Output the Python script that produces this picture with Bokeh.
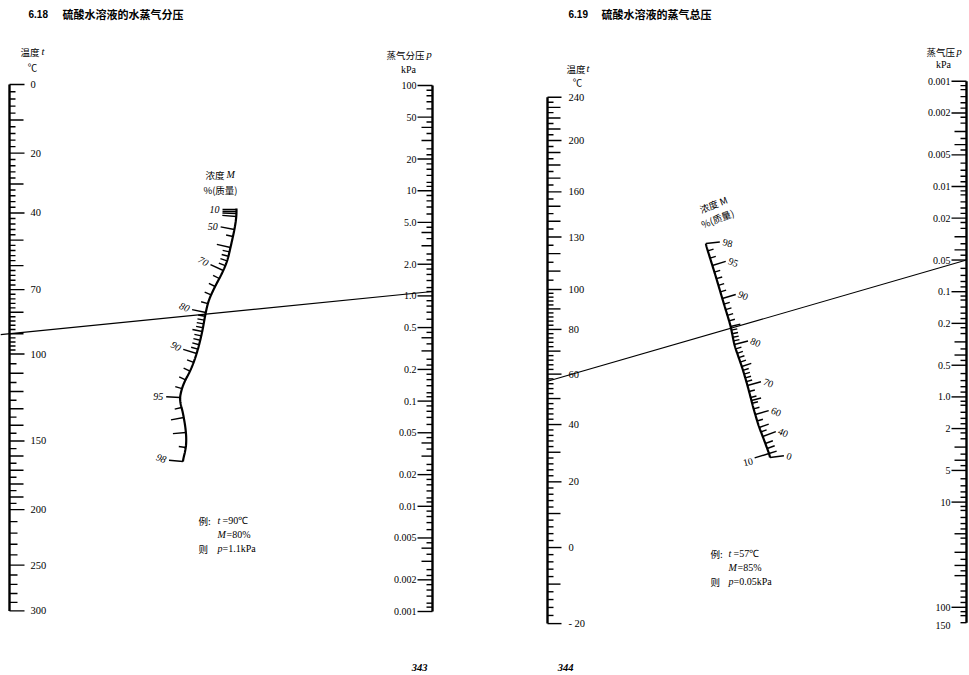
import numpy as np
from bokeh.plotting import figure
from bokeh.models import Range1d, ColumnDataSource
from bokeh.core.properties import value
from bokeh.embed import file_html
from bokeh.resources import INLINE

# ===================== DATA =====================
# --- 6.18 硫酸水溶液的水蒸气分压 ---
title_618 = "硫酸水溶液的水蒸气分压"
t_ticks_618 = list(range(0, 100, 2)) + list(range(100, 200, 5)) + list(range(200, 301, 10))
t_labels_618 = [0, 20, 40, 70, 100, 150, 200, 250, 300]
p_values_618 = [100, 50, 20, 10, 5, 2, 1, 0.5, 0.2, 0.1, 0.05, 0.02, 0.01, 0.005, 0.002, 0.001]
p_texts_618 = ["100", "50", "20", "10", "5.0", "2.0", "1.0", "0.5", "0.2", "0.1",
               "0.05", "0.02", "0.01", "0.005", "0.002", "0.001"]
M_ticks_618 = [10, 20, 30, 40, 50, 55, 60, 62, 64, 66, 68, 70, 72, 74, 76, 78,
               80, 81, 82, 83, 84, 85, 86, 87, 88, 89, 90, 91, 92, 93, 94,
               95, 95.5, 96, 97, 97.5, 98]
M_labels_618 = [10, 50, 70, 80, 90, 95, 98]
example_618 = {"t": 90, "M": 80, "p": 1.1}
example_text_618 = [("例:", "t", "=90℃"), ("", "M", "=80%"), ("则", "p", "=1.1kPa")]

# --- 6.19 硫酸水溶液的蒸气总压 ---
title_619 = "硫酸水溶液的蒸气总压"
t_ticks_619 = list(range(-20, 100, 2)) + list(range(100, 241, 5))
t_labels_619 = [-20, 0, 20, 40, 60, 80, 100, 130, 160, 200, 240]
p_values_619 = [0.001, 0.002, 0.005, 0.01, 0.02, 0.05, 0.1, 0.2, 0.5, 1, 2, 5, 10, 100, 150]
p_texts_619 = ["0.001", "0.002", "0.005", "0.01", "0.02", "0.05", "0.1", "0.2", "0.5",
               "1.0", "2", "5", "10", "100", "150"]
M_ticks_619 = [0, 10, 20, 30, 40, 45, 50, 55, 60, 62, 64, 65, 66, 68] + list(range(70, 99))
M_labels_619 = [98, 95, 90, 80, 70, 60, 40, 0]
M_left_labels_619 = [10]
example_619 = {"t": 57, "M": 85, "p": 0.05}
example_text_619 = [("例:", "t", "=57℃"), ("", "M", "=85%"), ("则", "p", "=0.05kPa")]

# log-scale subdivisions of one decade (pressure scales)
p_mantissas = [1, 1.1, 1.2, 1.4, 1.6, 1.8, 2, 2.2, 2.5, 3, 3.5, 4, 4.5, 5, 6, 7, 8, 9]

# ===================== SCALE GEOMETRY (page units, y downward) =====================
def y_t618(t):   # 1/T scale, 0 degC at top
    return 84 + 274.7 * (1000 / 273.15 - 1000 / (np.asarray(t, float) + 273.15))

def y_p618(p):   # log scale, 100 kPa at top
    return 85 + (2 - np.log10(np.asarray(p, float))) * 105.2

def y_t619(t):   # 1/T scale, 240 degC at top
    return 289 + 263.0 * (1000 / (np.asarray(t, float) + 273.15) - 1000 / 373.15)

def y_p619(p):   # log scale, 0.001 kPa at top
    return 186 + (np.log10(np.asarray(p, float)) + 2) * 105.2

X_T618, X_P618, X_T619, X_P619 = 9, 432, 547, 966

# concentration scales: M -> position along curve; curve shape x(y)
M618_grid = [10, 20, 30, 40, 50, 55, 60, 65, 70, 75, 80, 85, 90, 95, 95.5, 96, 97, 97.5, 98]
M618_gy = [209, 211, 213, 216, 229, 236, 247, 258, 270, 290, 312, 331, 353, 397, 407, 417, 432, 447, 461]
C618_y = [208, 216, 229, 247, 260, 272, 287, 300, 313, 330, 343, 357, 370, 383, 393, 400, 410, 427, 440, 450, 461]
C618_x = [236, 236, 234, 230, 227, 222, 214, 208, 205, 202, 199, 195, 190, 183, 180, 179, 182, 185, 186, 185, 182]

M619_grid = [0, 10, 20, 30, 40, 50, 60, 65, 70, 75, 80, 85, 90, 95, 98]
M619_gy = [457, 453, 448, 443, 436, 427, 414, 400, 385, 366, 344, 326, 298, 265, 243]
C619_y = [243, 275, 302, 325, 345, 368, 385, 408, 425, 438, 457]
C619_x = [705, 715, 723, 730, 734, 742, 747, 753, 758, 763, 770]


def smooth_curve(cy, cx):
    ys = np.linspace(cy[0], cy[-1], 300)
    xs = np.interp(ys, cy, cx)
    k = 15
    pad = np.pad(xs, k // 2, mode="edge")
    xs = np.convolve(pad, np.ones(k) / k, mode="valid")
    return ys, xs


def curve_point(y, ys, xs, side):
    x = np.interp(y, ys, xs)
    slope = (np.interp(y + 4, ys, xs) - np.interp(y - 4, ys, xs)) / 8.0
    n = np.array([-1.0, slope]) if side == "left" else np.array([1.0, -slope])
    n = n / np.hypot(*n)
    return x, n


# ===================== FIGURE =====================
p = figure(width=969, height=675, x_range=Range1d(0, 969), y_range=Range1d(675, 0),
           output_backend="svg", toolbar_location=None, min_border=0,
           x_axis_location=None, y_axis_location=None)
p.grid.visible = False
p.outline_line_color = None
p.background_fill_color = "white"
p.border_fill_color = "white"

SERIF = value("Liberation Serif")
SANS = value("Liberation Sans")
CJK = value("Noto Sans CJK SC")


def put(xs, ys, texts, font=SERIF, size="10px", style="normal", align="left", angle=None):
    n = len(texts)
    ang = angle if angle is not None else [0.0] * n
    src = ColumnDataSource(dict(x=list(xs), y=list(ys), text=list(texts), a=list(ang)))
    p.text(x="x", y="y", text="text", angle="a", source=src, text_font=font,
           text_font_size=size, text_font_style=style, text_align=align,
           text_baseline="middle", text_color="black")


def segs(x0, y0, x1, y1, width=1.4):
    src = ColumnDataSource(dict(x0=list(x0), y0=list(y0), x1=list(x1), y1=list(y1)))
    p.segment(x0="x0", y0="y0", x1="x1", y1="y1", source=src, line_color="black",
              line_width=width)


def fmt_t(t):
    return "- %d" % (-t) if t < 0 else str(t)


# ---------- temperature scales (ticks point right, labels right of line) ----------
def temp_scale(ticks, labels, yfun, x0, length_rule):
    ticks = sorted(set(ticks) | set(labels))
    ys = yfun(ticks)
    lens = [length_rule(t) for t in ticks]
    segs([x0] * len(ticks), ys, [x0 + L for L in lens], ys)
    segs([x0], [ys.min()], [x0], [ys.max()], width=2.4)
    put([x0 + 21] * len(labels), yfun(labels), [fmt_t(t) for t in labels], size="10.5px")


temp_scale(t_ticks_618, t_labels_618, y_t618, X_T618,
           lambda t: 15 if t in t_labels_618 else
           (14 if (t % 10 == 0 and t < 200) else (8 if t >= 200 else (7 if t >= 100 else 6))))
temp_scale(t_ticks_619, t_labels_619, y_t619, X_T619,
           lambda t: 14 if t in t_labels_619 else (13 if t % 10 == 0 else 6))


# ---------- pressure scales (ticks point left, labels left of line) ----------
def press_scale(values, texts, yfun, x0, pmin, pmax, long_len):
    ticks = []
    for d in range(-4, 3):
        for m in p_mantissas:
            v = round(m * 10.0 ** d, 8)
            if pmin - 1e-12 <= v <= pmax + 1e-12:
                ticks.append(v)
    labelled = [round(v, 8) for v in values]
    lens = []
    for v in ticks:
        mant = round(v / 10.0 ** np.floor(np.log10(v) + 1e-9), 4)
        if v in labelled:
            lens.append(15)
        elif mant in (1, 2, 3, 4, 5):
            lens.append(long_len)
        else:
            lens.append(6)
    ys = yfun(ticks)
    segs([x0] * len(ticks), ys, [x0 - L for L in lens], ys)
    segs([x0], [ys.min()], [x0], [ys.max()], width=2.4)
    put([x0 - 16] * len(values), yfun(values), texts, size="10px", align="right")


press_scale(p_values_618, p_texts_618, y_p618, X_P618, 0.001, 100, 11)
press_scale(p_values_619, p_texts_619, y_p619, X_P619, 0.001, 150, 12)


# ---------- concentration curves ----------
def conc_scale(grid, gy, cy, cx, ticks, labels, side, len_rule, label_angle, label_style,
               extra_left=None, extra_angle=0.0):
    ys, xs = smooth_curve(cy, cx)
    p.line(xs, ys, line_color="black", line_width=2.2)
    X0, Y0, X1, Y1 = [], [], [], []
    for m in ticks:
        y = float(np.interp(m, grid, gy))
        x, n = curve_point(y, ys, xs, side)
        L = len_rule(m)
        X0.append(x); Y0.append(y); X1.append(x + n[0] * L); Y1.append(y + n[1] * L)
    segs(X0, Y0, X1, Y1, width=1.4)
    LX, LY, LT, LA = [], [], [], []
    for m in labels:
        y = float(np.interp(m, grid, gy))
        x, n = curve_point(y, ys, xs, side)
        d = len_rule(m) + 3
        LX.append(x + n[0] * d); LY.append(y + n[1] * d)
        LT.append(str(m)); LA.append(label_angle.get(m, 0.0))
    put(LX, LY, LT, style=label_style, align="right" if side == "left" else "left",
        angle=LA, size="10px")
    if extra_left:
        X0, Y0, X1, Y1, TX, TY = [], [], [], [], [], []
        for m in extra_left:
            y = float(np.interp(m, grid, gy))
            x, n = curve_point(y, ys, xs, "left")
            X0.append(x); Y0.append(y); X1.append(x + n[0] * 15); Y1.append(y + n[1] * 15)
            TX.append(x + n[0] * 17); TY.append(y + n[1] * 17 + 2)
        segs(X0, Y0, X1, Y1, width=1.4)
        put(TX, TY, [str(m) for m in extra_left], align="right",
            angle=[extra_angle] * len(extra_left))


conc_scale(M618_grid, M618_gy, C618_y, C618_x, M_ticks_618, M_labels_618, "left",
           lambda m: 14 if (m in M_labels_618 or m in (20, 30, 40, 60)) else
           (13 if m in (96, 97) else (10 if m == 85 else 7)),
           {70: -0.5, 80: -0.4, 90: -0.5, 98: -0.35}, "italic")

conc_scale(M619_grid, M619_gy, C619_y, C619_x, M_ticks_619, M_labels_619, "right",
           lambda m: 14 if m in M_labels_619 else
           (8 if m in (10, 20, 30) else (10 if m in (50, 65, 75, 85) else 6)),
           {98: -0.25, 95: -0.35, 90: -0.4, 80: -0.4, 70: -0.4, 60: -0.4, 40: -0.4, 0: -0.3},
           "normal", extra_left=M_left_labels_619, extra_angle=0.25)


# ---------- example isopleths (left one runs slightly past the t-scale) ----------
def isopleth(xa, ya, xb, yb, x_start):
    s = (ya - yb) / (xb - xa)
    segs([x_start], [ya + s * (xa - x_start)], [xb], [yb], width=1.1)


isopleth(X_T618, float(y_t618(example_618["t"])), X_P618, float(y_p618(example_618["p"])), 0)
isopleth(X_T619, float(y_t619(example_619["t"])), X_P619, float(y_p619(example_619["p"])), X_T619)

# ---------- titles / headings ----------
put([28], [13], ["6.18"], font=SANS, size="10px", style="bold")
put([62], [13], [title_618], font=CJK, size="11px", style="bold")
put([568], [13], ["6.19"], font=SANS, size="10px", style="bold")
put([601], [13], [title_619], font=CJK, size="11px", style="bold")

# left chart axis headings
put([20], [51], ["温度"], font=CJK, size="9.5px")
put([41], [51], ["t"], size="10.5px", style="italic")
put([32], [66], ["℃"], font=CJK, size="9.5px", align="center")
put([386], [54], ["蒸气分压"], font=CJK, size="9.5px")
put([426], [54], ["p"], size="10.5px", style="italic")
put([408], [69], ["kPa"], size="10px", align="center")
put([205], [174], ["浓度"], font=CJK, size="9.5px")
put([226], [174], ["M"], size="10px", style="italic")
put([220], [189], ["%(质量)"], font=CJK, size="9.5px", align="center")

# right chart axis headings
put([566], [68], ["温度"], font=CJK, size="9.5px")
put([586], [68], ["t"], size="10.5px", style="italic")
put([577], [81], ["℃"], font=CJK, size="9.5px", align="center")
put([926], [51], ["蒸气压"], font=CJK, size="9.5px")
put([956], [51], ["p"], size="10.5px", style="italic")
put([943], [64], ["kPa"], size="10px", align="center")
put([713], [204], ["浓度 M"], font=CJK, size="9.5px", align="center", angle=[0.37])
put([717], [218], ["%(质量)"], font=CJK, size="9.5px", align="center", angle=[0.37])


# ---------- worked examples ----------
def example_block(x_word, x_var, y0, rows):
    for i, (word, var, rest) in enumerate(rows):
        y = y0 + 14 * i
        if word:
            put([x_word], [y], [word], font=CJK, size="9.5px")
        put([x_var], [y], [var], size="10px", style="italic")
        put([x_var + (9 if var == "M" else 5)], [y], [rest], size="10px")


example_block(198, 217, 520, example_text_618)
example_block(710, 728, 553, example_text_619)

# page numbers
put([419], [667], ["343"], size="10.5px", style="bold italic", align="center")
put([565], [667], ["344"], size="10.5px", style="bold italic", align="center")

open("out.html", "w").write(file_html(p, INLINE))
